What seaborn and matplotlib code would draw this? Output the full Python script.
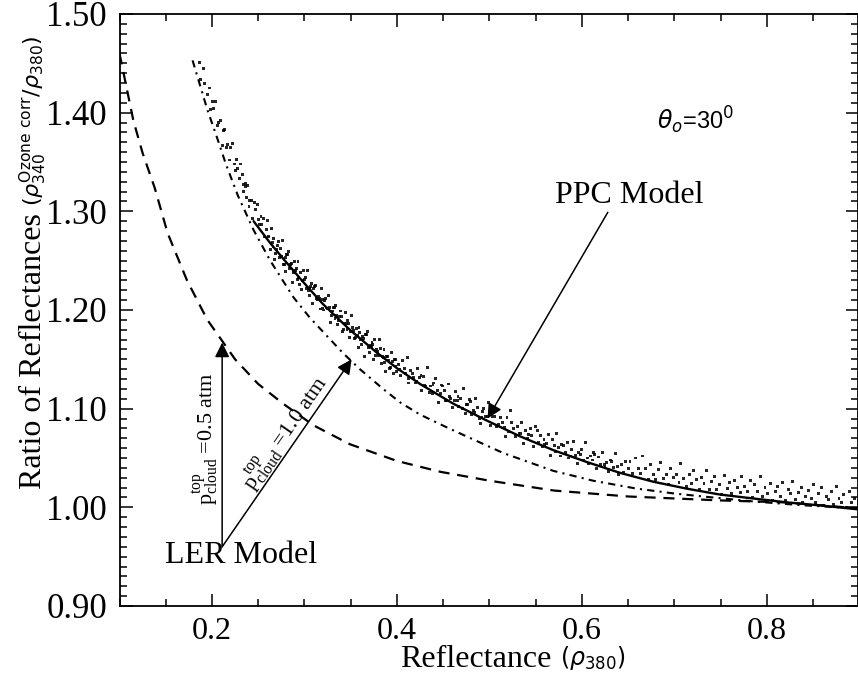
import matplotlib
matplotlib.use("Agg")
import matplotlib.pyplot as plt
import seaborn as sns
import pandas as pd
from matplotlib.ticker import MultipleLocator, FormatStrFormatter

# ---- LER model (dashed) ----
ler_x = [0.100, 0.115, 0.125, 0.138, 0.152, 0.173, 0.195, 0.225, 0.250, 0.277, 0.310,
         0.349, 0.400, 0.447, 0.500, 0.570, 0.650, 0.750, 0.820, 0.898]
ler_y = [1.460, 1.392, 1.359, 1.324, 1.278, 1.230, 1.190, 1.150, 1.125, 1.105, 1.083,
         1.064, 1.047, 1.036, 1.027, 1.017, 1.011, 1.007, 1.005, 0.999]

# ---- dash-dot curve ----
dd_x = [0.179, 0.187, 0.195, 0.205, 0.215, 0.228, 0.245, 0.263, 0.288, 0.306, 0.328,
        0.342, 0.360, 0.385, 0.404, 0.425, 0.454, 0.468, 0.515, 0.569, 0.612, 0.659,
        0.700, 0.731, 0.785, 0.840, 0.898]
dd_y = [1.453, 1.428, 1.403, 1.376, 1.348, 1.316, 1.281, 1.250, 1.213, 1.192, 1.170,
        1.156, 1.140, 1.120, 1.106, 1.094, 1.081, 1.075, 1.055, 1.037, 1.027, 1.019,
        1.014, 1.011, 1.006, 1.002, 0.999]

# ---- PPC model (solid) ----
ppc_x = [0.245, 0.262, 0.277, 0.299, 0.320, 0.349, 0.378, 0.400, 0.425, 0.461, 0.497,
         0.533, 0.569, 0.605, 0.641, 0.677, 0.713, 0.749, 0.785, 0.822, 0.857, 0.898]
ppc_y = [1.290, 1.269, 1.252, 1.228, 1.206, 1.180, 1.157, 1.141, 1.125, 1.105, 1.088,
         1.072, 1.058, 1.046, 1.035, 1.026, 1.019, 1.013, 1.009, 1.005, 1.002, 0.998]

cloud_a_x = [0.186, 0.188, 0.191, 0.192, 0.195, 0.197, 0.198, 0.201, 0.202, 0.204,
             0.206, 0.207, 0.209, 0.211, 0.212, 0.214, 0.216, 0.217, 0.219, 0.220,
             0.222, 0.224, 0.225, 0.227, 0.228, 0.230, 0.231, 0.233, 0.234, 0.236,
             0.234, 0.236, 0.237, 0.238, 0.240, 0.241, 0.243, 0.244, 0.246, 0.247,
             0.249, 0.250, 0.251, 0.253, 0.254, 0.256, 0.257, 0.259, 0.260, 0.261]
cloud_a_y = [1.451, 1.434, 1.445, 1.430, 1.418, 1.425, 1.403, 1.411, 1.404, 1.411,
             1.387, 1.390, 1.392, 1.367, 1.382, 1.383, 1.365, 1.368, 1.352, 1.365,
             1.369, 1.348, 1.341, 1.353, 1.343, 1.333, 1.348, 1.337, 1.320, 1.325,
             1.327, 1.328, 1.314, 1.326, 1.305, 1.311, 1.311, 1.293, 1.309, 1.302,
             1.307, 1.292, 1.287, 1.295, 1.287, 1.293, 1.274, 1.282, 1.291, 1.274]
cloud_b_x = [0.261, 0.263, 0.264, 0.266, 0.267, 0.268, 0.270, 0.272, 0.273, 0.274,
             0.276, 0.277, 0.279, 0.280, 0.282, 0.283, 0.284, 0.286, 0.287, 0.289,
             0.290, 0.292, 0.293, 0.294, 0.296, 0.297, 0.299, 0.300, 0.302, 0.303,
             0.305, 0.306, 0.308, 0.309, 0.310, 0.312, 0.314, 0.315, 0.317, 0.318,
             0.320, 0.321, 0.323, 0.325, 0.326, 0.328, 0.330, 0.331, 0.333, 0.334,
             0.336, 0.338, 0.339, 0.341, 0.343, 0.344, 0.346, 0.348, 0.349, 0.351,
             0.353, 0.354, 0.356, 0.358, 0.359, 0.361, 0.363, 0.365, 0.366, 0.368,
             0.370, 0.371, 0.373, 0.375, 0.376, 0.378, 0.380, 0.381, 0.383, 0.385,
             0.386, 0.388, 0.390, 0.391, 0.393, 0.394, 0.396, 0.397, 0.399, 0.400]
cloud_b_y = [1.275, 1.261, 1.283, 1.264, 1.272, 1.251, 1.261, 1.269, 1.253, 1.262,
             1.270, 1.246, 1.253, 1.239, 1.256, 1.259, 1.242, 1.247, 1.228, 1.249,
             1.240, 1.231, 1.249, 1.233, 1.238, 1.221, 1.240, 1.231, 1.222, 1.240,
             1.215, 1.222, 1.227, 1.207, 1.222, 1.225, 1.211, 1.214, 1.201, 1.222,
             1.211, 1.200, 1.212, 1.201, 1.215, 1.187, 1.199, 1.203, 1.191, 1.205,
             1.185, 1.193, 1.199, 1.178, 1.186, 1.197, 1.180, 1.186, 1.172, 1.194,
             1.179, 1.171, 1.181, 1.162, 1.182, 1.170, 1.173, 1.153, 1.175, 1.178,
             1.157, 1.164, 1.167, 1.150, 1.170, 1.160, 1.154, 1.170, 1.146, 1.152,
             1.160, 1.138, 1.153, 1.149, 1.142, 1.157, 1.136, 1.150, 1.143, 1.138]
cloud_c_x = [0.402, 0.404, 0.406, 0.409, 0.411, 0.413, 0.415, 0.418, 0.420, 0.422,
             0.424, 0.427, 0.429, 0.431, 0.433, 0.436, 0.438, 0.440, 0.442, 0.445,
             0.447, 0.449, 0.451, 0.454, 0.456, 0.458, 0.460, 0.463, 0.465, 0.467,
             0.469, 0.472, 0.474, 0.476, 0.478, 0.481, 0.483, 0.485, 0.487, 0.490,
             0.492, 0.494, 0.496, 0.499, 0.501, 0.503, 0.505, 0.508, 0.510, 0.512,
             0.514, 0.517, 0.519, 0.521, 0.523, 0.526, 0.528, 0.530, 0.532, 0.535,
             0.537, 0.539, 0.541, 0.544, 0.546, 0.548, 0.550, 0.553, 0.555, 0.557,
             0.559, 0.562, 0.564, 0.566, 0.568, 0.571, 0.573, 0.575, 0.577, 0.580,
             0.582, 0.584, 0.586, 0.589, 0.591, 0.593, 0.595, 0.598, 0.600, 0.602,
             0.604, 0.607, 0.609, 0.611, 0.613, 0.616, 0.618, 0.620, 0.622, 0.625,
             0.627, 0.629, 0.631, 0.634, 0.636, 0.638, 0.640, 0.643, 0.645, 0.647]
cloud_c_y = [1.145, 1.134, 1.149, 1.136, 1.152, 1.126, 1.139, 1.132, 1.126, 1.141,
             1.132, 1.118, 1.133, 1.122, 1.142, 1.123, 1.115, 1.126, 1.131, 1.106,
             1.115, 1.123, 1.118, 1.108, 1.125, 1.110, 1.101, 1.117, 1.108, 1.102,
             1.110, 1.120, 1.095, 1.104, 1.109, 1.094, 1.098, 1.110, 1.101, 1.085,
             1.091, 1.100, 1.092, 1.106, 1.083, 1.092, 1.098, 1.082, 1.084, 1.091,
             1.086, 1.072, 1.091, 1.077, 1.098, 1.080, 1.072, 1.082, 1.075, 1.086,
             1.065, 1.078, 1.070, 1.080, 1.073, 1.062, 1.082, 1.066, 1.073, 1.062,
             1.069, 1.065, 1.074, 1.053, 1.069, 1.057, 1.075, 1.061, 1.052, 1.063,
             1.056, 1.066, 1.050, 1.059, 1.067, 1.053, 1.044, 1.054, 1.059, 1.048,
             1.066, 1.044, 1.052, 1.048, 1.056, 1.039, 1.051, 1.043, 1.056, 1.040,
             1.045, 1.036, 1.048, 1.040, 1.055, 1.041, 1.033, 1.043, 1.035, 1.046]
cloud_d_x = [0.650, 0.652, 0.655, 0.658, 0.661, 0.663, 0.666, 0.669, 0.672, 0.674,
             0.677, 0.680, 0.683, 0.685, 0.688, 0.691, 0.694, 0.696, 0.699, 0.702,
             0.705, 0.707, 0.710, 0.713, 0.716, 0.718, 0.721, 0.724, 0.727, 0.729,
             0.732, 0.735, 0.738, 0.740, 0.743, 0.746, 0.749, 0.751, 0.754, 0.757,
             0.760, 0.762, 0.765, 0.768, 0.771, 0.773, 0.776, 0.779, 0.782, 0.784,
             0.787, 0.790, 0.793, 0.795, 0.798, 0.801, 0.804, 0.806, 0.809, 0.812,
             0.815, 0.817, 0.820, 0.823, 0.826, 0.828, 0.831, 0.834, 0.837, 0.839,
             0.842, 0.845, 0.848, 0.850, 0.853, 0.856, 0.859, 0.861, 0.864, 0.867,
             0.870, 0.872, 0.875, 0.878, 0.881, 0.883, 0.886, 0.889, 0.892, 0.895]
cloud_d_y = [1.039, 1.046, 1.034, 1.050, 1.039, 1.034, 1.052, 1.039, 1.028, 1.043,
             1.033, 1.028, 1.038, 1.045, 1.029, 1.033, 1.023, 1.039, 1.030, 1.033,
             1.025, 1.044, 1.029, 1.021, 1.033, 1.024, 1.037, 1.028, 1.018, 1.030,
             1.024, 1.037, 1.018, 1.026, 1.031, 1.018, 1.023, 1.013, 1.032, 1.019,
             1.025, 1.014, 1.027, 1.020, 1.015, 1.031, 1.021, 1.016, 1.027, 1.010,
             1.023, 1.016, 1.031, 1.011, 1.020, 1.014, 1.024, 1.007, 1.016, 1.021,
             1.011, 1.025, 1.007, 1.018, 1.014, 1.026, 1.008, 1.015, 1.020, 1.005,
             1.011, 1.017, 1.009, 1.023, 1.005, 1.014, 1.020, 1.002, 1.011, 1.008,
             1.016, 1.003, 1.021, 1.009, 1.005, 1.013, 1.000, 1.016, 1.005, 1.009]
cloud_e_x = [0.265, 0.269, 0.271, 0.275, 0.278, 0.281, 0.285, 0.288, 0.291, 0.295,
             0.298, 0.301, 0.304, 0.307, 0.311, 0.313, 0.316, 0.319, 0.322, 0.324,
             0.327, 0.329, 0.332, 0.335, 0.337, 0.340, 0.342, 0.345, 0.347, 0.350,
             0.352, 0.355, 0.357, 0.360, 0.362, 0.364, 0.367, 0.369, 0.372, 0.374,
             0.377, 0.379, 0.382, 0.384, 0.387, 0.389, 0.392, 0.395, 0.398, 0.403,
             0.408, 0.412, 0.417, 0.421, 0.426, 0.430, 0.435, 0.439, 0.444, 0.448,
             0.453, 0.457, 0.462, 0.466, 0.471, 0.475, 0.480, 0.484, 0.489, 0.493,
             0.498, 0.506, 0.516, 0.524, 0.534, 0.542, 0.552, 0.560, 0.570, 0.578,
             0.588, 0.596, 0.606, 0.614, 0.624, 0.632]
cloud_e_y = [1.268, 1.257, 1.265, 1.254, 1.246, 1.256, 1.246, 1.238, 1.242, 1.226,
             1.230, 1.233, 1.220, 1.224, 1.224, 1.212, 1.212, 1.202, 1.210, 1.202,
             1.203, 1.194, 1.203, 1.194, 1.189, 1.193, 1.180, 1.186, 1.189, 1.178,
             1.182, 1.172, 1.174, 1.177, 1.165, 1.171, 1.175, 1.162, 1.163, 1.165,
             1.154, 1.158, 1.161, 1.153, 1.147, 1.153, 1.141, 1.148, 1.150, 1.140,
             1.141, 1.131, 1.136, 1.128, 1.134, 1.124, 1.116, 1.124, 1.118, 1.124,
             1.108, 1.112, 1.108, 1.112, 1.100, 1.104, 1.107, 1.096, 1.090, 1.097,
             1.092, 1.092, 1.081, 1.086, 1.075, 1.074, 1.078, 1.064, 1.063, 1.064,
             1.052, 1.056, 1.050, 1.054, 1.043, 1.046]

x_ticks = [0.2, 0.4, 0.6, 0.8]
y_ticks = [0.90, 1.00, 1.10, 1.20, 1.30, 1.40, 1.50]

sns.set_theme(style="ticks")
plt.rcParams["font.family"] = ["Liberation Serif", "DejaVu Sans"]
plt.rcParams["mathtext.fontset"] = "custom"
plt.rcParams["mathtext.rm"] = "Liberation Serif"
plt.rcParams["mathtext.it"] = "Liberation Serif:italic"
plt.rcParams["mathtext.bf"] = "Liberation Serif:bold"

fig = plt.figure(figsize=(8.58, 6.81), dpi=100)
ax = fig.add_axes([119.5 / 858, 1 - 606 / 681, 738 / 858, 592 / 681])

cloud = pd.DataFrame({
    "x": cloud_a_x + cloud_b_x + cloud_c_x + cloud_d_x + cloud_e_x,
    "y": cloud_a_y + cloud_b_y + cloud_c_y + cloud_d_y + cloud_e_y,
})
sns.scatterplot(data=cloud, x="x", y="y", ax=ax, color="black", s=4.5,
                edgecolor="none", marker="s", alpha=0.85, zorder=2)

df_ler = pd.DataFrame({"x": ler_x, "y": ler_y})
df_dd = pd.DataFrame({"x": dd_x, "y": dd_y})
df_ppc = pd.DataFrame({"x": ppc_x, "y": ppc_y})
sns.lineplot(data=df_ler, x="x", y="y", ax=ax, color="black", lw=1.6,
             linestyle=(0, (5, 3.5)), estimator=None, sort=False, zorder=3)
sns.lineplot(data=df_dd, x="x", y="y", ax=ax, color="black", lw=1.5,
             linestyle=(0, (3.5, 2.5, 1, 2.5)), estimator=None, sort=False, zorder=3)
sns.lineplot(data=df_ppc, x="x", y="y", ax=ax, color="black", lw=1.7,
             estimator=None, sort=False, zorder=4)

ax.set_xlim(0.1, 0.898)
ax.set_ylim(0.90, 1.50)
ax.set_xticks(x_ticks)
ax.set_yticks(y_ticks)
ax.xaxis.set_minor_locator(MultipleLocator(0.05))
ax.yaxis.set_minor_locator(MultipleLocator(0.01))
ax.xaxis.set_major_formatter(FormatStrFormatter("%.1f"))
ax.yaxis.set_major_formatter(FormatStrFormatter("%.2f"))
ax.tick_params(which="both", direction="in", top=True, right=True,
               color="black", labelcolor="black", width=1.1)
ax.tick_params(which="major", length=9)
ax.tick_params(which="minor", length=5)
ax.tick_params(axis="x", which="major", labelsize=23, pad=8)
ax.tick_params(axis="y", which="major", labelsize=25, pad=9)
for sp in ax.spines.values():
    sp.set_visible(True)
    sp.set_color("black")
    sp.set_linewidth(1.3)

# axis labels: main words plus smaller symbolic part
ax.set_xlabel("Reflectance", fontsize=23, color="black", va="center")
ax.xaxis.set_label_coords(0.483, -0.091)
ax.text(560, 23, r"$(\rho_{380})$", transform=None, fontsize=17,
        math_fontfamily="dejavusans", ha="left", va="center", color="black")
ax.set_ylabel("Ratio of Reflectances", fontsize=23, color="black", va="center")
ax.yaxis.set_label_coords(-0.117, 0.431)
ax.text(-0.117, 0.675, r"$(\rho^{\mathrm{Ozone\ corr}}_{340}/\rho_{380})$",
        transform=ax.transAxes, fontsize=16, rotation=90, ha="center", va="bottom",
        math_fontfamily="dejavusans", color="black")

ax.text(0.681, 1.392, r"$\theta_o$=30$^0$", fontsize=17, family="Liberation Sans",
        math_fontfamily="dejavusans", ha="left", va="center", color="black")
ax.text(0.571, 1.316, "PPC Model", fontsize=23, ha="left", va="center", color="black")
ax.text(0.149, 0.951, "LER Model", fontsize=23, ha="left", va="center", color="black")

arrow = dict(arrowstyle="-|>", color="black", lw=1.1, mutation_scale=22,
             shrinkA=0, shrinkB=0)
ax.annotate("", xy=(0.498, 1.090), xytext=(0.628, 1.299), arrowprops=arrow)
ax.annotate("", xy=(0.211, 1.167), xytext=(0.211, 0.960), arrowprops=arrow)
ax.annotate("", xy=(0.351, 1.150), xytext=(0.211, 0.960), arrowprops=arrow)

ax.text(0.193, 1.070, r"$\mathrm{p}_{\mathrm{cloud}}^{\mathrm{top}}$ =0.5 atm", fontsize=16,
        rotation=90, ha="center", va="center", color="black")
ax.text(0.279, 1.076, r"$\mathrm{p}_{\mathrm{cloud}}^{\mathrm{top}}$ =1.0 atm", fontsize=16,
        rotation=55.5, rotation_mode="anchor", ha="center", va="center", color="black")

fig.savefig("out.png", dpi=100, facecolor="white")
